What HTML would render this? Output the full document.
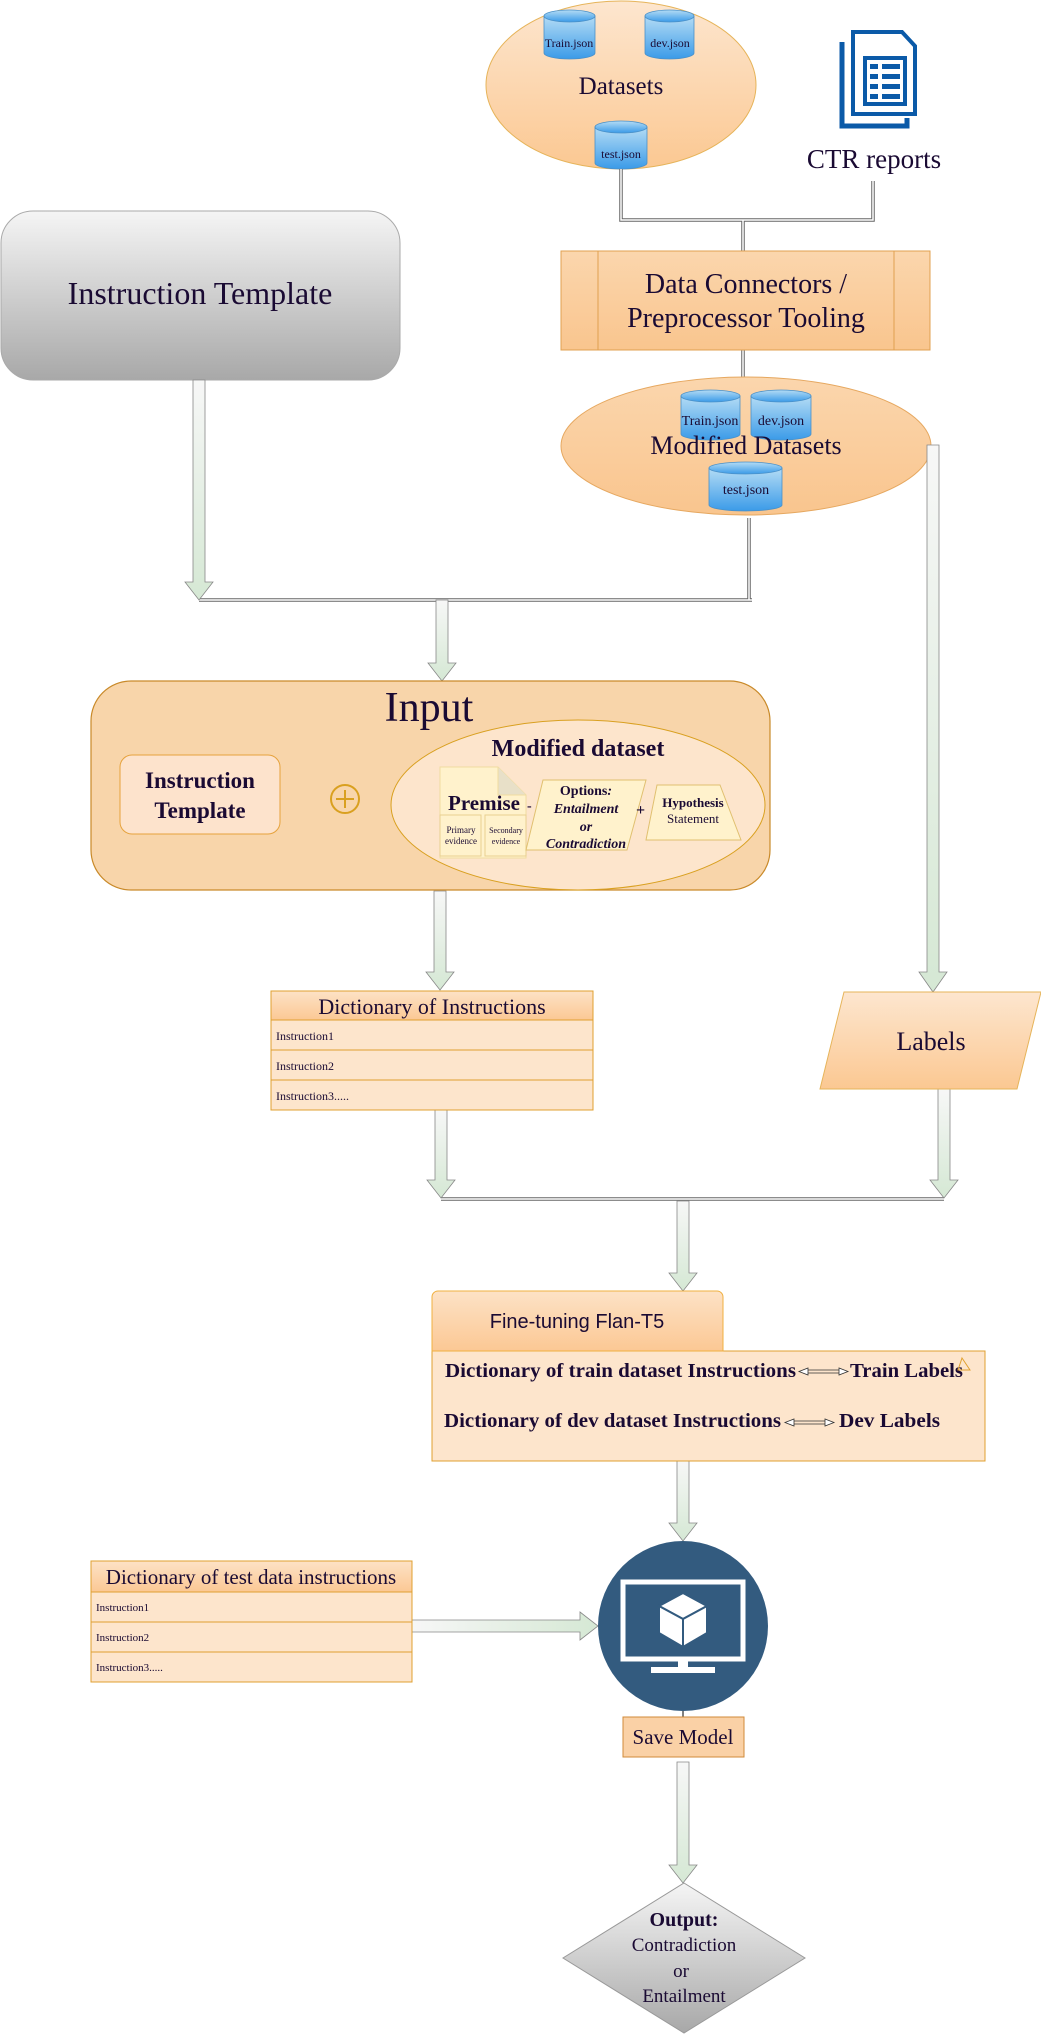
<!DOCTYPE html>
<html><head><meta charset="utf-8"><style>
html,body{margin:0;padding:0;background:#fff;}
svg{display:block;}
text{font-family:"Liberation Serif",serif;fill:#1a0a33;}
</style></head><body>
<svg width="1041" height="2041" viewBox="0 0 1041 2041" xmlns="http://www.w3.org/2000/svg">
<defs>
<linearGradient id="peach" x1="0" y1="0" x2="0" y2="1"><stop offset="0" stop-color="#fde6cf"/><stop offset="1" stop-color="#fbc892"/></linearGradient>
<linearGradient id="peach2" x1="0" y1="0" x2="0" y2="1"><stop offset="0" stop-color="#fbd6ad"/><stop offset="1" stop-color="#f9c58e"/></linearGradient>
<linearGradient id="gray" x1="0" y1="0" x2="0" y2="1"><stop offset="0" stop-color="#f5f5f5"/><stop offset="1" stop-color="#a8a8a8"/></linearGradient>
<linearGradient id="cyl" x1="0" y1="0" x2="0" y2="1"><stop offset="0" stop-color="#b4dcf5"/><stop offset="1" stop-color="#3b9be8"/></linearGradient>
<linearGradient id="arr" x1="0" y1="0" x2="0" y2="1"><stop offset="0" stop-color="#f7f7f7"/><stop offset="1" stop-color="#d5e8d4"/></linearGradient>
<linearGradient id="arrh" x1="0" y1="0" x2="1" y2="0"><stop offset="0" stop-color="#f7f7f7"/><stop offset="1" stop-color="#d5e8d4"/></linearGradient>
<linearGradient id="hdr" x1="0" y1="0" x2="0" y2="1"><stop offset="0" stop-color="#fde2c6"/><stop offset="1" stop-color="#fbc894"/></linearGradient>
</defs>

<ellipse cx="621" cy="85" rx="135" ry="84" fill="url(#peach)" stroke="#e6b45a" stroke-width="1"/>
<g stroke="#4a90c8" stroke-width="0.8" fill="url(#cyl)">
<path d="M544,16 v37 a25.5,6 0 0 0 51,0 v-37 z"/><ellipse cx="569.5" cy="16" rx="25.5" ry="6"/>
<path d="M645,16 v37 a24.5,6 0 0 0 49,0 v-37 z"/><ellipse cx="669.5" cy="16" rx="24.5" ry="6"/>
<path d="M595,127 v36 a26,6 0 0 0 52,0 v-36 z"/><ellipse cx="621" cy="127" rx="26" ry="6"/>
</g>
<g font-size="12" text-anchor="middle">
<text x="569" y="47">Train.json</text><text x="670" y="47">dev.json</text><text x="621" y="158">test.json</text>
</g>
<text x="621" y="94" font-size="25" text-anchor="middle">Datasets</text>

<g fill="none" stroke="#0b5aa8" stroke-width="5">
<path d="M842,42 V126 H907 V118"/>
<path d="M853,32 H902 L915,46 V114 H853 Z" stroke-width="4"/>
<rect x="865" y="58" width="40" height="46" stroke-width="4"/>
</g>
<g fill="#0b5aa8"><rect x="870" y="64" width="8" height="5"/><rect x="882" y="64" width="18" height="5"/><rect x="870" y="74" width="8" height="5"/><rect x="882" y="74" width="18" height="5"/><rect x="870" y="84" width="8" height="5"/><rect x="882" y="84" width="18" height="5"/><rect x="870" y="94" width="8" height="5"/><rect x="882" y="94" width="18" height="5"/></g>
<text x="874" y="168" font-size="27" text-anchor="middle">CTR reports</text>

<g fill="none" stroke="#666" stroke-width="3.5">
<path d="M621,169 V220 H873 V181"/><path d="M743,220 V251"/><path d="M743,350 V380"/>
<path d="M749,518 V600"/><path d="M199,600 H752"/><path d="M441,1199 H944"/>
</g>
<g fill="none" stroke="#fff" stroke-width="1.5">
<path d="M621,169 V220 H873 V181"/><path d="M743,220 V251"/><path d="M743,350 V380"/>
<path d="M749,518 V600"/><path d="M199,600 H752"/><path d="M441,1199 H944"/>
</g>

<rect x="561" y="251" width="369" height="99" fill="url(#peach2)" stroke="#e0a050"/>
<line x1="598" y1="251" x2="598" y2="350" stroke="#e0a050"/><line x1="894" y1="251" x2="894" y2="350" stroke="#e0a050"/>
<text x="746" y="293" font-size="28" text-anchor="middle">Data Connectors /</text>
<text x="746" y="327" font-size="28" text-anchor="middle">Preprocessor Tooling</text>

<ellipse cx="746" cy="446" rx="185" ry="69" fill="url(#peach2)" stroke="#e6a860"/>
<g stroke="#4a90c8" stroke-width="0.8" fill="url(#cyl)">
<path d="M681,396 v38 a29.5,6 0 0 0 59,0 v-38 z"/><ellipse cx="710.5" cy="396" rx="29.5" ry="6"/>
<path d="M751,396 v38 a30,6 0 0 0 60,0 v-38 z"/><ellipse cx="781" cy="396" rx="30" ry="6"/>
<path d="M709,468 v37 a36.5,6 0 0 0 73,0 v-37 z"/><ellipse cx="745.5" cy="468" rx="36.5" ry="6"/>
</g>
<g font-size="14" text-anchor="middle">
<text x="710" y="425">Train.json</text><text x="781" y="425">dev.json</text><text x="746" y="494">test.json</text>
</g>
<text x="746" y="454" font-size="26" text-anchor="middle">Modified Datasets</text>

<rect x="1" y="211" width="399" height="169" rx="32" fill="url(#gray)" stroke="#aaa"/>
<text x="200" y="304" font-size="32" text-anchor="middle">Instruction Template</text>

<g fill="url(#arr)" stroke="#888" stroke-width="0.8">
<polygon points="193,380 205,380 205,582 213,582 199,600 185,582 193,582"/>
<polygon points="436,600 448,600 448,663 456,663 442,681 428,663 436,663"/>
<polygon points="927,445 939,445 939,972 947,972 933,992 919,972 927,972"/>
<polygon points="434,891 446,891 446,972 454,972 440,990 426,972 434,972"/>
<polygon points="435,1110 447,1110 447,1180 455,1180 441,1198 427,1180 435,1180"/>
<polygon points="938,1089 950,1089 950,1180 958,1180 944,1198 930,1180 938,1180"/>
<polygon points="677,1201 689,1201 689,1273 697,1273 683,1291 669,1273 677,1273"/>
<polygon points="677,1461 689,1461 689,1523 697,1523 683,1541 669,1523 677,1523"/>
<polygon points="677,1762 689,1762 689,1865 697,1865 683,1883 669,1865 677,1865"/>
</g>
<polygon points="412,1620 580,1620 580,1612 598,1626 580,1640 580,1632 412,1632" fill="url(#arrh)" stroke="#888" stroke-width="0.8"/>

<rect x="91" y="681" width="679" height="209" rx="40" fill="#f8d5aa" stroke="#c98a2a" stroke-width="1.2"/>
<text x="429" y="721" font-size="42" text-anchor="middle">Input</text>
<rect x="120" y="755" width="160" height="79" rx="12" fill="#fde3cc" stroke="#e6a23c"/>
<text x="200" y="788" font-size="23" font-weight="bold" text-anchor="middle">Instruction</text>
<text x="200" y="818" font-size="23" font-weight="bold" text-anchor="middle">Template</text>
<circle cx="345" cy="799" r="14" fill="none" stroke="#d9a020" stroke-width="2"/>
<path d="M345,790 V808 M336,799 H354" stroke="#d9a020" stroke-width="2"/>
<ellipse cx="578" cy="805" rx="187" ry="85" fill="#fde5cc" stroke="#d9a020"/>
<text x="578" y="756" font-size="24" font-weight="bold" text-anchor="middle">Modified dataset</text>
<path d="M440,767 H498 L526,795 V858 H440 Z" fill="#fff2cc" stroke="#f0dca0"/>
<path d="M498,767 V795 H526" fill="#e8e0c8" stroke="#f0dca0"/>
<rect x="440" y="815" width="41" height="41" fill="#fff2cc" stroke="#e8d090"/>
<rect x="485" y="815" width="41" height="41" fill="#fff2cc" stroke="#e8d090"/>
<text x="484" y="810" font-size="21" font-weight="bold" text-anchor="middle">Premise</text>
<text x="461" y="833" font-size="9" text-anchor="middle">Primary</text><text x="461" y="844" font-size="9" text-anchor="middle">evidence</text>
<text x="506" y="833" font-size="8" text-anchor="middle">Secondary</text><text x="506" y="844" font-size="8" text-anchor="middle">evidence</text>
<text x="527" y="810" font-size="14" font-weight="bold">-</text>
<polygon points="543,780 646,780 627,850 526,850" fill="#fff2cc" stroke="#e0c070"/>
<text x="586" y="795" font-size="14" font-weight="bold" text-anchor="middle">Options<tspan font-style="italic">:</tspan></text>
<text x="586" y="813" font-size="14" font-weight="bold" font-style="italic" text-anchor="middle">Entailment</text>
<text x="586" y="831" font-size="14" font-weight="bold" font-style="italic" text-anchor="middle">or</text>
<text x="586" y="848" font-size="14" font-weight="bold" font-style="italic" text-anchor="middle">Contradiction</text>
<text x="636" y="815" font-size="16" font-weight="bold">+</text>
<polygon points="657,785 720,785 741,840 646,840" fill="#fff2cc" stroke="#e0c070"/>
<text x="693" y="807" font-size="13" font-weight="bold" text-anchor="middle">Hypothesis</text>
<text x="693" y="823" font-size="13" text-anchor="middle">Statement</text>

<rect x="271" y="991" width="322" height="29" fill="url(#hdr)" stroke="#e0a030"/>
<rect x="271" y="1020" width="322" height="30" fill="#fde5cc" stroke="#e0a030"/>
<rect x="271" y="1050" width="322" height="30" fill="#fde5cc" stroke="#e0a030"/>
<rect x="271" y="1080" width="322" height="30" fill="#fde5cc" stroke="#e0a030"/>
<text x="432" y="1014" font-size="22" text-anchor="middle">Dictionary of Instructions</text>
<g font-size="12"><text x="276" y="1040">Instruction1</text><text x="276" y="1070">Instruction2</text><text x="276" y="1100">Instruction3.....</text></g>

<polygon points="844,992 1041,992 1017,1089 820,1089" fill="url(#peach)" stroke="#e6b45a"/>
<text x="931" y="1050" font-size="26" text-anchor="middle">Labels</text>

<rect x="432" y="1351" width="553" height="110" fill="#fde5cc" stroke="#e0a030"/>
<path d="M432,1351 V1297 a6,6 0 0 1 6,-6 H717 a6,6 0 0 1 6,6 V1351 Z" fill="url(#hdr)" stroke="#f0b040"/>
<text x="577" y="1328" font-size="20" text-anchor="middle" style="font-family:'Liberation Sans',sans-serif">Fine-tuning Flan-T5</text>
<text x="445" y="1377" font-size="20" font-weight="bold" textLength="351" lengthAdjust="spacingAndGlyphs">Dictionary of train dataset Instructions</text>
<text x="850" y="1377" font-size="20" font-weight="bold" textLength="113" lengthAdjust="spacingAndGlyphs">Train Labels</text>
<text x="444" y="1427" font-size="20" font-weight="bold" textLength="337" lengthAdjust="spacingAndGlyphs">Dictionary of dev dataset Instructions</text>
<text x="839" y="1427" font-size="20" font-weight="bold" textLength="101" lengthAdjust="spacingAndGlyphs">Dev Labels</text>
<g fill="#fff" stroke="#333" stroke-width="0.8">
<path d="M805,1370 H842 M805,1373 H842"/><polygon points="799,1371.5 808,1368 808,1375"/><polygon points="848,1371.5 839,1368 839,1375"/>
<path d="M791,1421 H828 M791,1424 H828"/><polygon points="785,1422.5 794,1419 794,1426"/><polygon points="834,1422.5 825,1419 825,1426"/>
</g>
<path d="M962,1358 L970,1370 H958 Z" fill="none" stroke="#e0a030" stroke-width="1"/>

<rect x="91" y="1561" width="321" height="31" fill="url(#hdr)" stroke="#e0a030"/>
<rect x="91" y="1592" width="321" height="30" fill="#fde5cc" stroke="#e0a030"/>
<rect x="91" y="1622" width="321" height="30" fill="#fde5cc" stroke="#e0a030"/>
<rect x="91" y="1652" width="321" height="30" fill="#fde5cc" stroke="#e0a030"/>
<text x="251" y="1584" font-size="21" text-anchor="middle">Dictionary of test data instructions</text>
<g font-size="11"><text x="96" y="1611">Instruction1</text><text x="96" y="1641">Instruction2</text><text x="96" y="1671">Instruction3.....</text></g>

<circle cx="683" cy="1626" r="85" fill="#335b7f"/>
<rect x="623" y="1582" width="120" height="77" fill="none" stroke="#fff" stroke-width="5"/>
<rect x="651" y="1667" width="64" height="6" fill="#fff"/>
<rect x="678" y="1660" width="10" height="8" fill="#fff"/>
<g stroke="#335b7f" stroke-width="2" fill="#fff">
<polygon points="683,1593 707,1606 683,1619 659,1606"/>
<polygon points="659,1606 683,1619 683,1647 659,1633"/>
<polygon points="707,1606 683,1619 683,1647 707,1633"/>
</g>
<line x1="683" y1="1711" x2="683" y2="1717" stroke="#000" stroke-width="1"/>
<rect x="623" y="1717" width="121" height="40" fill="#fad1a6" stroke="#d08a3a"/>
<text x="683" y="1744" font-size="21" text-anchor="middle">Save Model</text>

<polygon points="684,1883 805,1958 684,2033 563,1958" fill="url(#gray)" stroke="#999"/>
<text x="684" y="1926" font-size="20" font-weight="bold" text-anchor="middle">Output:</text>
<text x="684" y="1951" font-size="19" text-anchor="middle">Contradiction</text>
<text x="681" y="1977" font-size="19" text-anchor="middle">or</text>
<text x="684" y="2002" font-size="19" text-anchor="middle">Entailment</text>
</svg>
</body></html>
